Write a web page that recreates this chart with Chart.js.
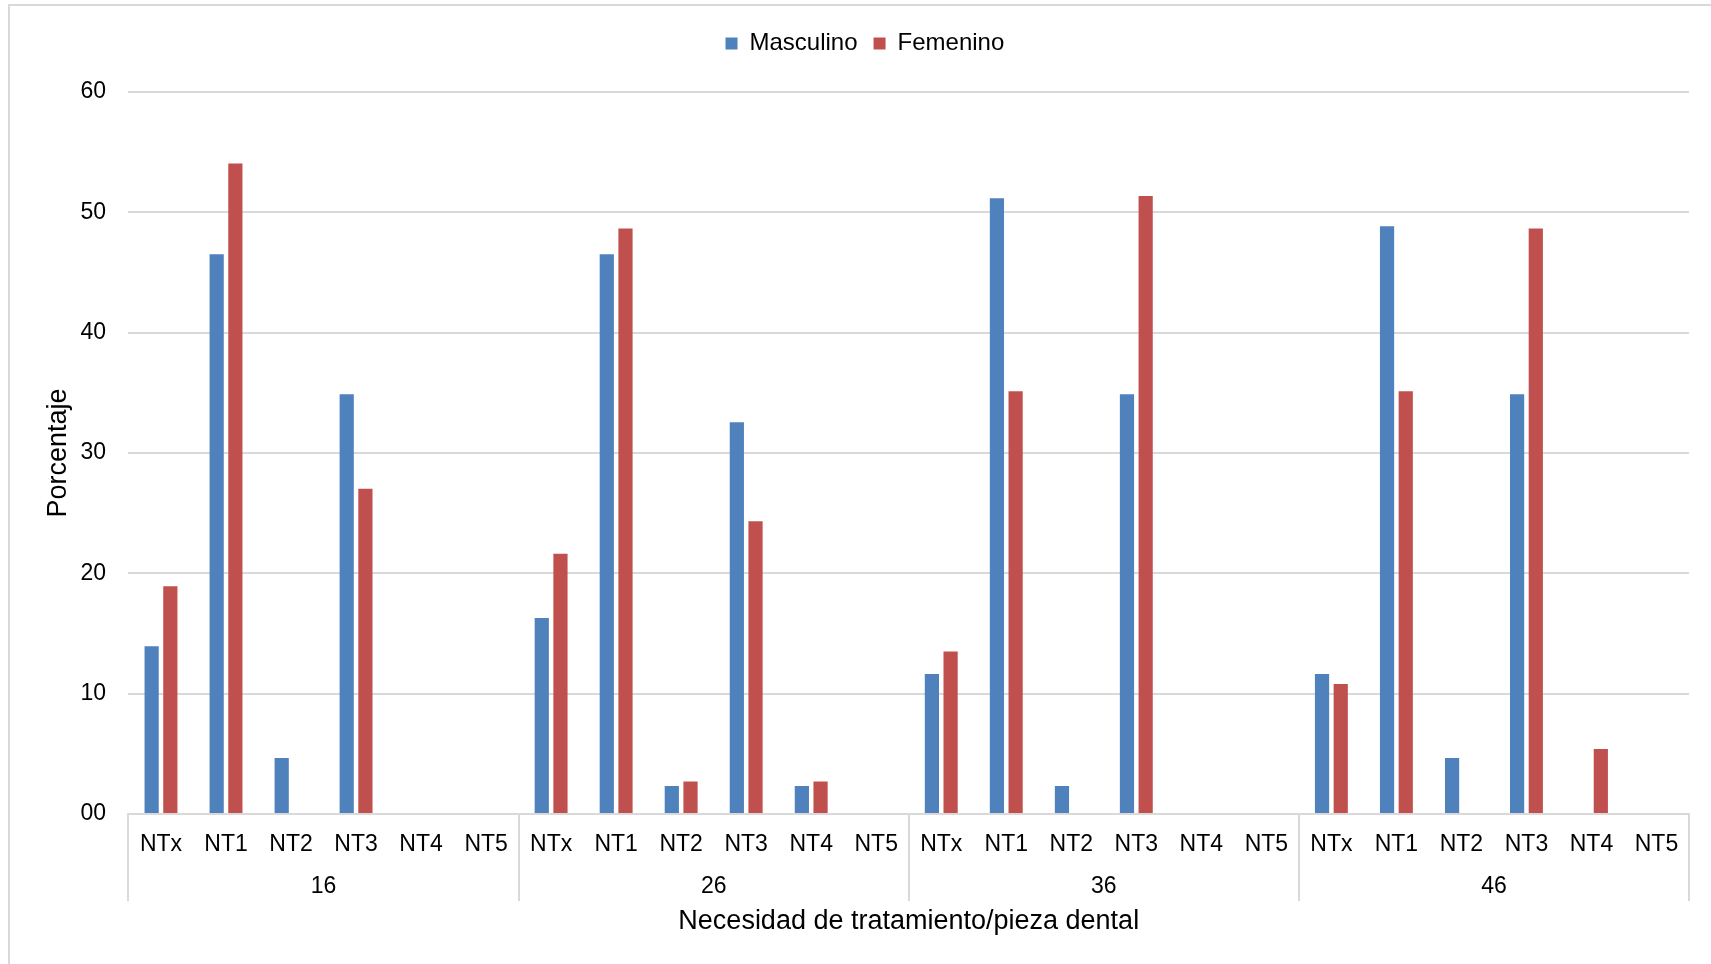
<!DOCTYPE html>
<html lang="es">
<head>
<meta charset="utf-8">
<title>Necesidad de tratamiento por pieza dental</title>
<script src="https://cdn.jsdelivr.net/npm/chart.js@4.4.1/dist/chart.umd.min.js"></script>
<style>
  html, body { margin: 0; padding: 0; background: #fff; overflow: hidden; }
  #wrap { position: relative; width: 1711px; height: 964px; }
  #frame { position: absolute; left: 8px; top: 4px; width: 1760px; height: 1000px;
           border: 2px solid #d9d9d9; box-sizing: border-box; }
  canvas { position: absolute; left: 0; top: 0; }
</style>
</head>
<body>
<div id="wrap">
  <div id="frame"></div>
  <canvas id="chart" width="1711" height="964"></canvas>
</div>
<script>
// piezas dentales y niveles de necesidad de tratamiento
var piezas = ['16', '26', '36', '46'];
var necesidades = ['NTx', 'NT1', 'NT2', 'NT3', 'NT4', 'NT5'];

// porcentajes por sexo, en orden NTx..NT5 para cada pieza
var masculino16 = [13.95, 46.51, 4.65, 34.88, 0, 0];
var masculino26 = [16.28, 46.51, 2.33, 32.56, 2.33, 0];
var masculino36 = [11.63, 51.16, 2.33, 34.88, 0, 0];
var masculino46 = [11.63, 48.84, 4.65, 34.88, 0, 0];

var femenino16 = [18.92, 54.05, 0, 27.03, 0, 0];
var femenino26 = [21.62, 48.65, 2.70, 24.32, 2.70, 0];
var femenino36 = [13.51, 35.14, 0, 51.35, 0, 0];
var femenino46 = [10.81, 35.14, 0, 48.65, 5.41, 0];

var yTicks = ['00', '10', '20', '30', '40', '50', '60'];

var FONT = "'Liberation Sans', Arial, sans-serif";
var GRID = '#d9d9d9';

var labels = [];
piezas.forEach(function() { labels = labels.concat(necesidades); });

var masculino = [].concat(masculino16, masculino26, masculino36, masculino46);
var femenino = [].concat(femenino16, femenino26, femenino36, femenino46);

// deja aire entre la leyenda y el área del gráfico
var legendGap = {
  id: 'legendGap',
  beforeInit: function(chart) {
    var fit = chart.legend.fit;
    chart.legend.fit = function() {
      fit.call(chart.legend);
      this.height += 26.6;
    };
  }
};

var ctx = document.getElementById('chart').getContext('2d');

new Chart(ctx, {
  type: 'bar',
  data: {
    labels: labels,
    datasets: [
      { label: 'Masculino', data: masculino, backgroundColor: '#4f81bd', borderWidth: 0,
        categoryPercentage: 0.575, barPercentage: 0.76 },
      { label: 'Femenino', data: femenino, backgroundColor: '#c0504d', borderWidth: 0,
        categoryPercentage: 0.575, barPercentage: 0.76 }
    ]
  },
  options: {
    responsive: false,
    animation: false,
    layout: { padding: { left: 40.8, right: 22, top: 15.4, bottom: 25.8 } },
    plugins: {
      tooltip: { enabled: false },
      legend: {
        position: 'top',
        labels: {
          color: '#000',
          font: { family: FONT, size: 24 },
          boxWidth: 12,
          boxHeight: 12,
          padding: 16
        }
      }
    },
    scales: {
      // fila de necesidades; las marcas largas separan las piezas
      x: {
        weight: 0,
        grid: {
          drawOnChartArea: false,
          drawTicks: true,
          tickLength: 87,
          lineWidth: 2,
          color: function(c) {
            return (c.type !== 'tick' || c.index % necesidades.length === 0) ? GRID : 'rgba(0,0,0,0)';
          }
        },
        border: { display: true, color: GRID, width: 2 },
        ticks: {
          color: '#000',
          font: { family: FONT, size: 23 },
          mirror: true,
          crossAlign: 'center',
          padding: -30.8,
          maxRotation: 0,
          autoSkip: false
        }
      },
      // fila de piezas dentales
      x2: {
        type: 'category',
        labels: piezas,
        offset: true,
        position: 'bottom',
        weight: 1,
        grid: { display: false },
        border: { display: false },
        ticks: { color: '#000', font: { family: FONT, size: 23 }, padding: 25.3, maxRotation: 0 },
        title: {
          display: true,
          text: 'Necesidad de tratamiento/pieza dental',
          color: '#000',
          font: { family: FONT, size: 27 },
          padding: { top: -19.8, bottom: 0 }
        }
      },
      y: {
        min: 0,
        max: 60,
        grid: { color: GRID, lineWidth: 2, drawTicks: false },
        border: { display: false },
        ticks: {
          stepSize: 10,
          color: '#000',
          font: { family: FONT, size: 23 },
          padding: 22.5,
          callback: function(v) { return yTicks[v / 10]; }
        },
        title: {
          display: true,
          text: 'Porcentaje',
          color: '#000',
          font: { family: FONT, size: 27 },
          padding: { top: 2, bottom: -17.3 }
        }
      }
    }
  },
  plugins: [legendGap]
});
</script>
</body>
</html>
